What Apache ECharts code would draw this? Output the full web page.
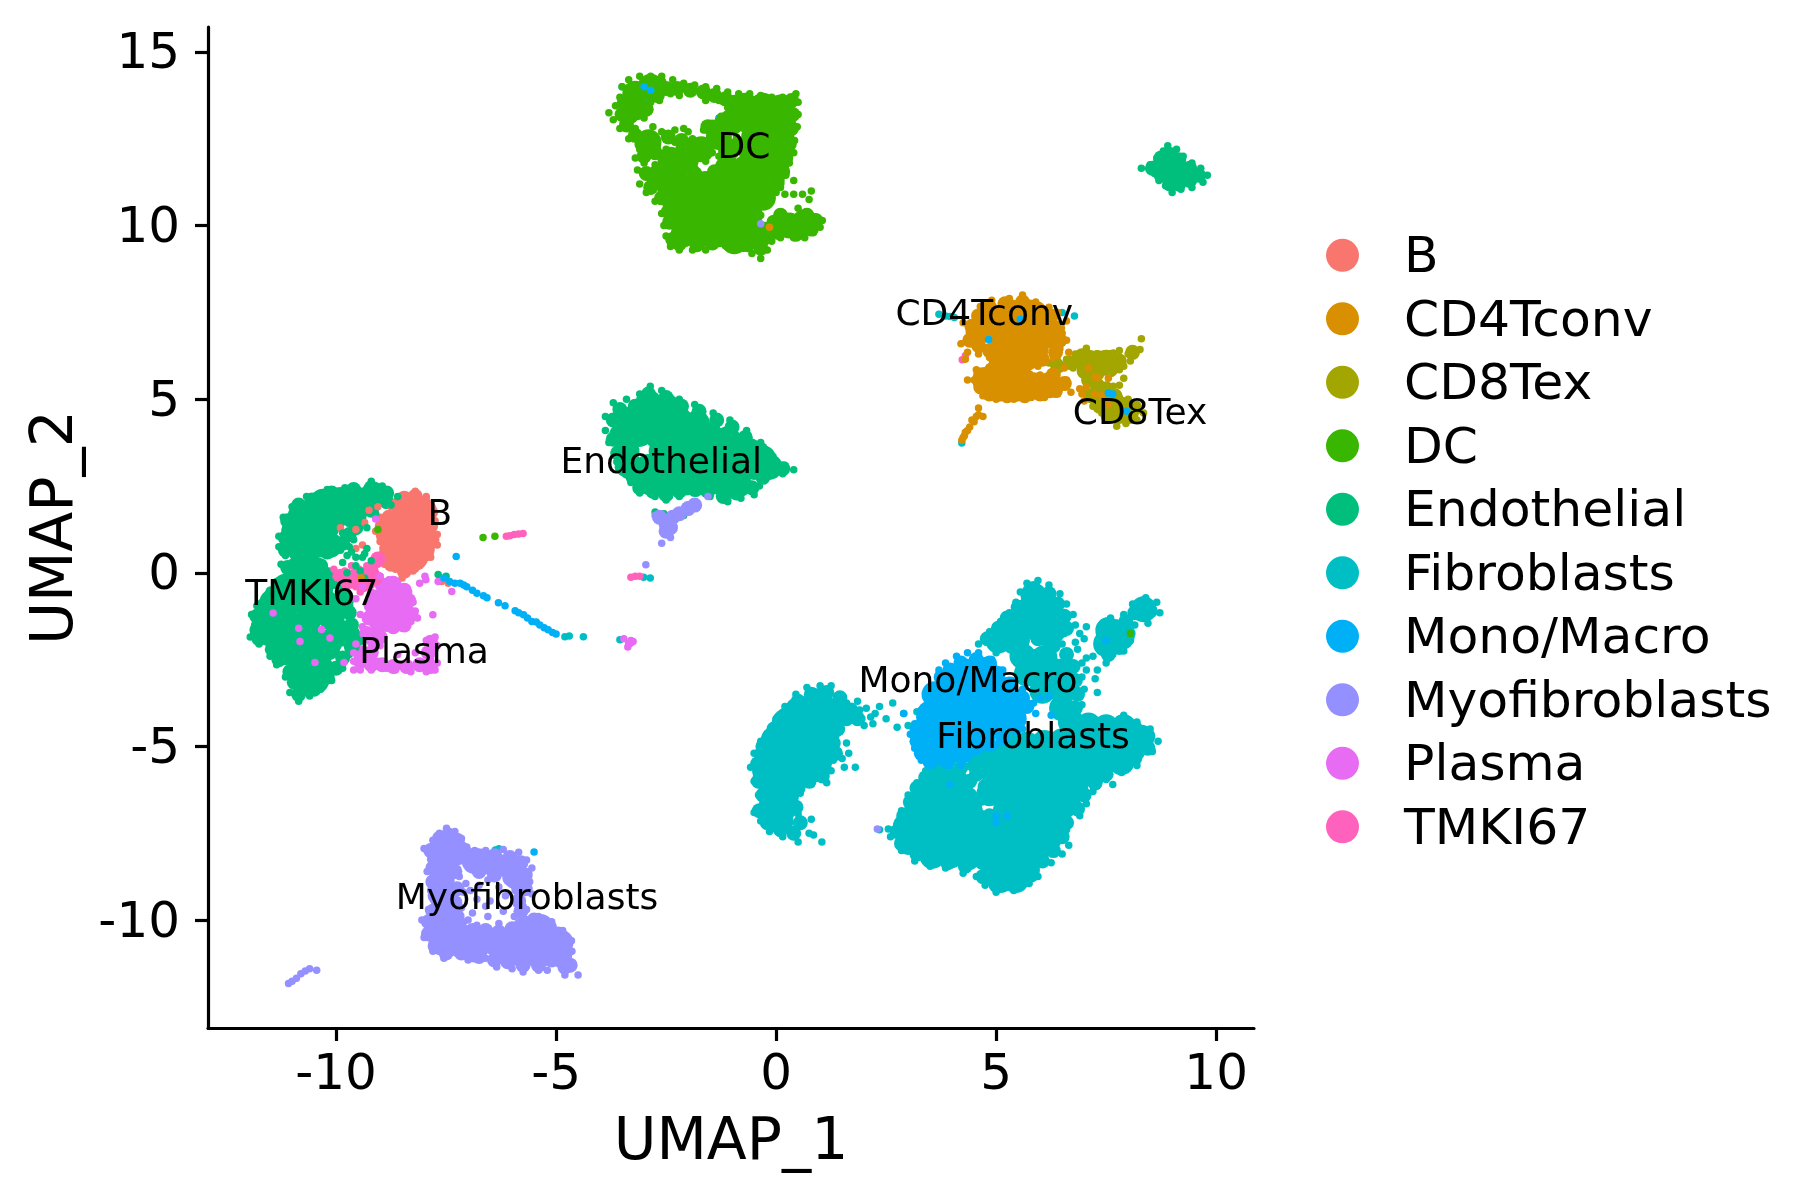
<!DOCTYPE html>
<html><head><meta charset="utf-8">
<script src="https://cdn.jsdelivr.net/npm/echarts@6/dist/echarts.min.js"></script>
<style>html,body{margin:0;padding:0;background:#fff}#c{width:1800px;height:1200px}</style></head>
<body><div id="c"></div>
<script>
const categories=["B","CD4Tconv","CD8Tex","DC","Endothelial","Fibroblasts","Mono/Macro","Myofibroblasts","Plasma","TMKI67"];
const xTicks=[-10,-5,0,5,10];
const yTicks=[-10,-5,0,5,10,15];
const labelPoints=[["DC",-0.73,12.28],["CD4Tconv",4.73,7.49],["CD8Tex",8.27,4.64],["Endothelial",-2.61,3.21],["B",-7.64,1.73],["TMKI67",-10.55,-0.59],["Plasma",-8.0,-2.25],["Mono/Macro",4.36,-3.08],["Fibroblasts",5.84,-4.7],["Myofibroblasts",-5.66,-9.33]];

const fibroDense=[[0.9,-3.7],[0.5,-3.95],[0.2,-4.3],[0.6,-4.4],[1.0,-4.2],[-0.05,-4.8],[0.35,-4.85],[0.75,-4.8],[1.15,-4.65],[-0.2,-5.25],[0.2,-5.3],[0.6,-5.3],[1.0,-5.2],[-0.25,-5.7],[0.15,-5.75],[0.55,-5.75],[0.9,-5.65],[-0.1,-6.2],[0.25,-6.2],[-0.1,-6.7],[0.2,-6.75],[0.1,-7.15],
[5.85,-0.65],[5.7,-1.1],[6.1,-1.05],[5.4,-1.5],[5.8,-1.55],[5.05,-1.95],[6.3,-1.65],[5.45,-2.0],
[7.55,-1.65],[7.5,-2.05],[7.85,-1.85],[8.35,-1.05],
[5.6,-2.4],[6.1,-2.45],[6.45,-2.85],[6.0,-3.0],[5.7,-2.9],[6.5,-3.4],[6.05,-3.4],[6.5,-3.9],
[6.7,-4.3],[7.1,-4.4],[7.5,-4.45],[7.9,-4.45],[8.3,-4.75],[5.3,-4.95],[5.7,-4.95],[6.1,-4.9],[6.5,-4.85],[6.9,-4.85],[7.3,-4.9],[7.7,-4.95],[8.1,-5.1],
[4.7,-5.4],[5.1,-5.4],[5.5,-5.4],[5.9,-5.4],[6.3,-5.35],[6.7,-5.35],[7.1,-5.35],[7.5,-5.4],[7.85,-5.45],
[3.65,-5.95],[4.05,-5.95],[5.2,-5.85],[5.6,-5.85],[6.0,-5.85],[6.4,-5.85],[6.8,-5.8],[7.2,-5.8],
[3.35,-6.4],[3.75,-6.4],[4.15,-6.4],[5.6,-6.3],[6.0,-6.3],[6.4,-6.3],[6.8,-6.25],[4.85,-6.35],[5.3,-6.6],
[3.2,-6.85],[3.6,-6.85],[4.0,-6.85],[4.4,-6.85],[6.2,-6.75],[6.55,-6.7],[5.75,-6.95],
[2.95,-7.3],[3.35,-7.3],[3.75,-7.3],[4.15,-7.3],[4.55,-7.3],[4.95,-7.35],[5.4,-7.3],[6.05,-7.2],[6.35,-7.2],
[3.0,-7.75],[3.4,-7.75],[3.8,-7.75],[4.2,-7.75],[4.6,-7.75],[5.0,-7.75],[5.4,-7.75],[5.8,-7.7],[6.2,-7.65],
[3.55,-8.15],[3.95,-8.15],[4.35,-8.2],[4.75,-8.2],[5.15,-8.2],[5.55,-8.15],[5.9,-8.1],
[5.05,-8.6],[5.4,-8.6],[5.7,-8.55],[5.1,-8.85],[5.45,-8.85]];
const fibroMid=[[1.15,-3.45],[0.8,-3.5],[0.5,-3.7],[0.2,-4.1],[-0.05,-4.5],[-0.3,-5.0],[-0.42,-5.5],[-0.4,-6.0],[-0.3,-6.4],[-0.38,-6.85],[-0.2,-7.2],[0.1,-7.4],[0.4,-7.5],[0.55,-7.2],[0.45,-6.75],[0.35,-6.45],[0.5,-6.2],[0.75,-6.0],[1.05,-5.85],[1.1,-5.5],[1.35,-5.2],[1.3,-4.9],[1.4,-4.5],[1.4,-3.9],[1.2,-3.8],[1.3,-4.2],[1.6,-4.2],[1.45,-3.6],[1.7,-3.95],[1.85,-4.2],
[5.85,-0.45],[6.2,-0.6],[6.4,-0.9],[5.5,-1.0],[5.25,-1.3],[5.05,-1.6],[4.8,-1.9],[6.55,-1.25],[6.2,-1.4],[6.3,-1.1],[5.95,-1.9],[5.6,-1.95],[5.3,-1.9],[6.75,-2.7],[6.8,-3.1],[6.85,-3.5],[6.8,-3.9],[6.6,-2.35],[6.3,-2.1],[5.9,-2.4],[6.6,-1.6],
[8.35,-0.95],[8.5,-1.1],[8.15,-1.15],[7.95,-1.4],[7.75,-1.55],[7.5,-1.6],[7.4,-1.95],[7.55,-2.35],[7.8,-2.15],[8.0,-1.75],
[7.85,-4.3],[8.15,-4.45],[8.45,-4.7],[8.45,-5.05],[8.15,-5.35],[7.8,-5.6],[7.5,-5.8],[7.25,-6.05],[7.0,-6.4],[6.85,-6.8],[6.6,-7.2],[6.5,-7.6],[6.3,-8.0],[6.05,-8.3],[5.8,-8.7],[5.4,-9.0],[5.0,-9.0],[4.7,-8.75],[4.3,-8.45],[3.9,-8.35],[3.5,-8.3],[3.2,-8.1],[2.85,-7.8],[2.75,-7.45],[2.9,-7.0],[3.05,-6.6],[3.2,-6.2],[3.4,-5.9],[3.7,-5.65],[4.2,-5.6],[4.5,-5.55],[4.4,-6.0],[4.4,-6.4],[4.65,-6.5],[4.6,-7.0],[5.1,-6.8],[5.3,-7.25],[5.7,-7.3],[5.75,-6.6],[5.2,-6.2],[4.85,-5.9],[5.3,-6.5],[4.75,-6.15],[5.05,-7.05],[5.55,-7.0],[5.0,-5.75],[4.55,-5.8],[5.95,-6.7],[5.4,-6.05],[4.85,-7.0]];
const fibroSparse=[[1.25,-3.25],[1.0,-3.25],[0.7,-3.3],[0.45,-3.5],[0.2,-3.85],[0.0,-4.2],[-0.15,-4.6],[-0.35,-4.85],[-0.5,-5.2],[-0.58,-5.6],[-0.5,-6.0],[-0.4,-6.4],[-0.5,-6.9],[-0.35,-7.15],[-0.15,-7.45],[0.15,-7.6],[0.5,-7.75],[0.75,-7.5],[0.6,-7.2],[0.8,-7.1],[1.04,-7.75],[0.85,-7.55],[0.5,-6.95],[0.4,-6.45],[0.55,-6.35],[0.8,-6.1],[1.15,-6.05],[1.25,-5.7],[1.3,-5.4],[1.5,-5.35],[1.65,-5.2],[1.8,-5.6],[1.55,-5.6],[1.3,-5.0],[1.6,-4.9],[1.3,-4.6],[1.5,-4.3],[1.7,-4.2],[2.0,-4.4],[2.2,-4.35],[2.25,-4.05],[1.9,-3.95],[1.75,-4.15],[1.6,-3.75],[1.85,-3.7],[2.05,-3.9],[2.35,-3.85],[2.5,-4.2],[2.65,-3.75],[3.2,-4.0],[2.9,-4.05],[3.0,-4.4],[2.75,-4.45],[2.15,-4.15],[1.95,-4.2],
[4.6,-2.05],[4.85,-1.7],[5.1,-1.4],[5.3,-1.15],[5.45,-0.85],[5.55,-0.55],[5.7,-0.3],[5.95,-0.22],[6.2,-0.35],[6.45,-0.6],[6.6,-0.9],[6.75,-1.2],[6.8,-1.5],[7.05,-1.55],[7.0,-1.9],[6.85,-2.2],[7.05,-2.45],[7.05,-2.8],[7.25,-3.05],[7.3,-3.45],[6.95,-3.0],[7.0,-3.35],[6.95,-3.8],[6.65,-2.45],[6.5,-2.05],[6.3,-1.8],[6.1,-2.0],[6.55,-1.75],[5.0,-2.3],[5.3,-2.2],[6.9,-1.75],[6.8,-2.0],[6.95,-2.6],
[8.4,-0.72],[8.65,-0.85],[8.72,-1.15],[8.45,-1.45],[8.15,-1.5],[8.05,-1.95],[7.9,-2.25],[7.65,-2.35],[7.5,-2.6],[7.3,-2.8],[7.2,-2.4],[7.35,-1.75],[7.6,-1.3],[7.9,-1.2],[8.1,-0.9],
[7.9,-4.1],[8.2,-4.3],[8.5,-4.5],[8.68,-4.85],[8.55,-5.15],[8.2,-5.55],[7.85,-5.75],[7.65,-6.1],[7.5,-5.95],[7.2,-6.3],[7.05,-6.65],[6.9,-7.0],[6.6,-7.4],[6.65,-7.85],[6.5,-8.1],[6.25,-8.35],[5.95,-8.75],[5.75,-8.95],[5.4,-9.15],[5.0,-9.2],[4.75,-9.0],[4.55,-8.75],[4.25,-8.65],[3.85,-8.5],[3.5,-8.45],[3.15,-8.3],[2.85,-8.0],[2.6,-7.6],[2.75,-7.25],[2.85,-6.85],[3.0,-6.4],[3.2,-6.05],[3.4,-5.7],[2.35,-7.4],[2.55,-7.38],
[-4.8,-1.84],[-4.7,-1.82],[-4.38,-1.84],[-3.01,-0.13],[-2.86,-0.15],[-3.55,-1.93],[3.85,7.4],[4.05,7.35],[3.7,7.45],[3.95,7.38],[6.5,7.5],[6.78,7.4],[4.22,3.74],[7.36,5.44],[-7.03,-7.96],[-6.38,-7.98],[-6.3,-7.95],[-8.1,1.8],[-3.5,14.0],[-3.05,13.75],[-3.15,13.45],[-1.3,13.1],[-2.9,13.6],[-2.7,3.8],[-1.1,2.1]];
const monoDense=[[3.6,-3.5],[3.95,-3.2],[4.35,-2.85],[4.75,-2.8],[3.5,-4.05],[3.9,-3.65],[4.3,-3.3],[4.7,-3.25],[5.1,-3.35],[5.4,-3.7],[3.4,-4.5],[3.8,-4.2],[4.2,-3.95],[4.6,-3.75],[5.0,-3.8],[5.4,-4.2],[3.4,-4.95],[3.8,-4.75],[4.2,-4.45],[4.6,-4.3],[5.0,-4.3],[3.6,-5.2],[4.0,-5.1],[4.3,-4.95],[4.7,-4.7]];
const monoMid=[[3.75,-3.0],[3.95,-2.8],[4.2,-2.6],[4.55,-2.5],[4.85,-2.6],[5.05,-2.9],[5.3,-3.2],[5.6,-3.6],[5.7,-3.85],[5.45,-4.45],[5.15,-4.75],[4.85,-4.95],[4.55,-5.05],[4.3,-5.25],[3.9,-5.45],[3.5,-5.45],[3.3,-5.2],[3.2,-4.85],[3.2,-4.5],[3.35,-4.15],[3.5,-3.85],[3.7,-3.45],[4.8,-2.95]];
const monoSparse=[[3.7,-2.8],[3.85,-2.6],[4.1,-2.4],[4.35,-2.3],[4.6,-2.3],[4.9,-2.5],[5.15,-2.8],[5.35,-3.1],[5.6,-3.35],[5.85,-3.75],[6.0,-3.6],[6.2,-3.55],[6.25,-4.1],[5.9,-4.05],[5.6,-4.5],[5.45,-4.6],[5.0,-4.95],[4.5,-5.15],[4.25,-5.4],[4.2,-5.55],[3.5,-5.55],[3.3,-5.4],[3.15,-5.05],[3.05,-4.65],[3.15,-4.35],[3.3,-3.95],[3.5,-3.7],[2.9,-4.05],[7.5,-1.95],[3.95,-6.1],[5.25,-7.0],[5.0,-7.0],[5.0,-7.2],
[-7.27,0.47],[-7.55,-0.15],[-7.42,-0.25],[-7.3,-0.3],[-7.18,-0.3],[-7.1,-0.35],[-7.03,-0.4],[-6.9,-0.5],[-6.8,-0.59],[-6.65,-0.66],[-6.57,-0.72],[-6.31,-0.86],[-6.16,-0.95],[-5.93,-1.09],[-5.85,-1.15],[-5.74,-1.21],[-5.65,-1.3],[-5.55,-1.4],[-5.45,-1.42],[-5.37,-1.5],[-5.27,-1.58],[-5.18,-1.64],[-5.08,-1.72],[-5.0,-1.76],[4.83,6.72],[5.55,7.3],[7.55,5.18],[7.65,5.15],[7.97,4.65],[-5.5,-8.04],[-3.0,14.0],[-2.85,13.9]];
const endoDense=[[-2.9,4.9],[-2.5,4.8],[-3.4,4.4],[-3.0,4.45],[-2.6,4.4],[-2.2,4.4],[-1.8,4.3],[-3.5,3.95],[-3.1,4.0],[-2.7,3.95],[-2.3,3.95],[-1.9,3.95],[-1.5,3.95],[-1.1,3.85],[-3.4,3.5],[-2.6,3.5],[-2.2,3.5],[-1.8,3.5],[-1.4,3.5],[-1.0,3.5],[-0.6,3.5],[-0.3,3.3],[-3.3,3.05],[-2.9,3.05],[-2.5,3.05],[-2.1,3.05],[-1.7,3.05],[-1.3,3.05],[-0.9,3.05],[-0.5,3.05],[-0.15,3.05],[-2.85,2.6],[-2.45,2.6],[-2.05,2.6],[-1.65,2.6],[-1.25,2.6],[-0.85,2.55],
[-10.3,2.05],[-9.9,2.1],[-9.5,2.1],[-9.15,2.25],[-10.8,1.65],[-10.4,1.65],[-10.0,1.65],[-9.6,1.65],[-10.95,1.2],[-10.55,1.2],[-10.9,0.8],[-10.55,0.8],[-10.15,0.8],[-10.85,0.1],[-10.5,0.1],[-11.15,-0.4],[-10.75,-0.4],[-10.35,-0.4],[-11.45,-0.85],[-11.05,-0.85],[-10.65,-0.85],[-10.25,-0.85],[-9.9,-0.95],[-11.55,-1.3],[-11.15,-1.35],[-10.6,-1.3],[-10.1,-1.3],[-11.5,-1.75],[-11.1,-2.3],[-10.55,-2.15],[-10.2,-2.15],[-9.85,-1.75],[-11.2,-1.9],[-10.6,-1.8],[-10.15,-2.0],[-10.75,-2.7],[-10.35,-2.75],[-10.7,-3.15],[-10.45,-3.1],[-10.85,-1.8],
[8.85,11.75],[9.15,11.5]];
const endoMid=[[-3.7,4.4],[-3.55,4.7],[-3.2,4.8],[-2.9,5.15],[-2.5,5.05],[-2.15,4.8],[-1.75,4.65],[-1.35,4.4],[-1.0,4.2],[-0.7,3.9],[-0.35,3.55],[-0.1,3.15],[0.15,3.0],[-0.3,2.75],[-0.55,2.45],[-0.9,2.3],[-1.2,2.2],[-1.55,2.35],[-1.85,2.4],[-2.2,2.35],[-2.5,2.25],[-2.8,2.35],[-3.1,2.45],[-3.25,2.75],[-3.5,3.05],[-3.6,3.45],[-3.7,3.85],
[-11.1,1.5],[-10.85,1.95],[-10.55,2.1],[-10.1,2.3],[-9.6,2.4],[-9.2,2.45],[-8.85,2.3],[-8.85,2.05],[-9.2,1.8],[-9.55,1.3],[-9.7,1.1],[-9.85,0.85],[-10.2,0.6],[-11.15,1.0],[-11.15,0.65],[-10.9,0.55],[-10.55,0.55],[-10.35,1.35],[-10.1,1.25],
[-11.1,0.15],[-10.95,-0.1],[-11.2,-0.35],[-11.45,-0.6],[-11.65,-0.95],[-11.8,-1.25],[-11.8,-1.65],[-11.75,-1.9],[-11.45,-2.2],[-11.3,-2.5],[-11.05,-2.85],[-10.95,-3.15],[-10.85,-3.5],[-10.5,-3.35],[-10.2,-3.0],[-10.0,-2.75],[-9.85,-2.45],[-9.65,-2.15],[-9.5,-1.9],[-9.65,-1.5],[-9.7,-1.15],[-9.75,-0.75],[-9.85,-0.55],[-10.05,-0.25],[-10.2,-0.05],[-10.35,0.2],[-10.75,-1.6],[-11.0,-1.3],
[8.55,11.65],[8.75,11.95],[8.95,12.05],[9.15,11.9],[9.4,11.65],[9.6,11.45],[9.4,11.3],[9.15,11.2],[8.95,11.2],[8.75,11.45]];
const endoSparse=[[-3.88,4.5],[-3.7,4.9],[-3.4,5.0],[-3.1,5.15],[-2.86,5.37],[-2.6,5.25],[-2.2,5.0],[-1.85,4.85],[-1.43,4.6],[-1.05,4.4],[-0.67,4.1],[-0.35,3.75],[-0.07,3.35],[0.2,3.1],[0.4,2.97],[0.15,2.85],[-0.2,2.77],[-0.38,2.5],[-0.5,2.25],[-0.8,2.15],[-1.1,2.05],[-1.5,2.2],[-1.8,2.3],[-2.2,2.2],[-2.5,2.1],[-2.75,2.2],[-3.1,2.3],[-3.3,2.6],[-3.5,2.9],[-3.62,3.2],[-3.8,3.75],[-3.88,4.1],[-3.65,3.45],[-2.75,1.75],[-2.55,1.7],[-2.0,1.95],[-2.1,1.65],
[-11.2,1.6],[-11.0,1.9],[-10.67,2.2],[-10.2,2.4],[-9.8,2.45],[-9.2,2.64],[-8.95,2.5],[-8.6,2.2],[-8.75,1.95],[-9.1,1.7],[-9.5,1.5],[-9.3,1.3],[-9.6,0.95],[-9.9,0.65],[-10.35,0.55],[-10.7,0.5],[-11.15,0.5],[-11.3,1.05],[-11.3,0.75],[-11.25,0.25],[-11.0,0.3],[-10.1,1.35],[-10.2,1.1],[-9.85,1.15],[-9.2,0.35],[-9.55,0.45],[-9.45,0.05],[-9.35,-0.15],[-9.75,0.0],[-10.2,0.0],[-10.0,-0.35],[-9.95,-0.55],[-9.7,-0.7],[-9.65,-1.1],[-9.7,-1.55],[-9.55,-1.7],[-9.4,-1.95],[-9.55,-2.15],[-9.7,-2.35],[-9.85,-2.75],[-10.1,-3.1],[-10.35,-3.35],[-10.6,-3.55],[-10.85,-3.7],[-11.05,-3.45],[-10.95,-3.2],[-11.15,-3.0],[-11.35,-2.65],[-11.5,-2.4],[-11.75,-2.05],[-11.95,-1.85],[-11.85,-1.5],[-11.92,-1.2],[-11.8,-0.95],[-11.5,-0.5],[-11.35,-0.25],[-11.15,0.1],[-7.68,-0.05],[-7.5,-0.1],[-9.65,0.6],[-9.35,0.55],[-9.75,0.5],[-9.85,0.3],[-9.55,0.2],[-9.4,0.45],[-9.3,0.7],[-9.7,0.75],
[8.3,11.65],[8.5,11.75],[8.6,11.5],[8.65,11.95],[8.8,12.15],[8.9,12.3],[9.1,12.2],[9.25,12.0],[9.45,11.8],[9.65,11.65],[9.8,11.45],[9.7,11.25],[9.45,11.1],[9.2,11.05],[9.0,10.95],[8.85,11.15],[8.7,11.3],[9.4,11.45]];
const dcDense=[[-0.7,13.45],[-0.3,13.45],[0.1,13.4],[-1.0,13.0],[-0.6,13.0],[-0.2,13.0],[0.15,13.0],[-1.3,12.55],[-0.5,12.55],[-0.1,12.55],[0.12,12.55],[-0.55,12.1],[-0.15,12.1],[0.05,12.1],[-1.1,11.65],[-0.7,11.65],[-0.3,11.65],[0.0,11.65],[-2.3,11.5],[-1.6,11.2],[-1.2,11.2],[-0.8,11.2],[-0.4,11.2],[-0.1,11.3],[-2.4,11.0],[-2.05,11.1],[-2.3,10.7],[-1.9,10.7],[-1.5,10.7],[-1.1,10.7],[-0.7,10.7],[-0.3,10.8],[-2.2,10.25],[-1.8,10.25],[-1.4,10.25],[-1.0,10.25],[-0.6,10.3],[-2.1,9.75],[-1.7,9.75],[-1.3,9.75],[-0.9,9.75],[-0.5,9.7],[0.3,10.0],[0.65,10.1],[-0.95,9.55],[-2.65,11.4],[-2.4,11.9],[-2.05,11.9],[-3.2,13.8],[-3.2,13.4],[-2.85,14.0],[-2.9,12.4],[-1.7,12.2]];
const dcMid=[[-1.9,12.35],[-2.15,12.45],[-2.45,12.55],[-2.75,12.1],[-3.05,12.35],[-3.2,12.6],[-3.4,12.9],[-3.5,13.2],[-3.3,13.15],[-3.45,13.55],[-2.95,13.35],[-2.7,13.75],[-2.5,13.95],[-2.65,14.1],[-2.25,13.95],[-1.95,13.9],[-1.65,13.85],[-1.4,13.75],[-1.15,13.65],[-0.95,13.55],[0.35,13.6],[0.38,13.2],[0.35,12.8],[0.3,12.35],[0.22,11.95],[0.15,11.55],[0.02,11.2],[-3.0,12.0],[-2.95,11.5],[-2.85,11.1],[-2.6,10.8],[-2.45,10.4],[-2.42,10.1],[-2.35,9.6],[-2.2,9.48],[-1.8,9.45],[-1.45,9.5],[-1.1,9.5],[-0.65,9.45],[-0.35,9.35],[-0.3,9.6],[0.05,9.8],[0.45,9.75],[0.8,9.9],[0.9,10.15],[0.7,10.3],[0.1,10.3],[-0.95,12.3],[-1.15,12.15],[-1.85,11.5],[-1.4,11.55],[-0.85,13.4],[-1.55,12.85],[-1.25,12.95],[-0.05,10.1],[0.1,10.0],[-0.15,9.85]];
const dcSparse=[[-3.5,14.0],[-3.35,14.2],[-3.1,14.3],[-2.85,14.3],[-2.6,14.3],[-2.35,14.2],[-2.1,14.1],[-1.85,14.05],[-1.6,14.0],[-1.35,13.95],[-1.1,13.85],[-0.85,13.8],[-0.6,13.8],[-0.35,13.75],[-0.1,13.7],[0.15,13.7],[0.45,13.8],[0.5,13.55],[0.5,13.2],[0.48,12.85],[0.42,12.45],[0.4,12.1],[0.3,11.8],[0.22,11.45],[0.1,11.1],[0.0,10.95],[0.2,10.9],[0.4,10.9],[0.6,10.9],[0.8,11.0],[0.75,10.75],[0.4,11.3],[0.5,10.5],[0.7,10.4],[0.9,10.25],[1.05,10.15],[1.0,9.95],[0.85,9.8],[0.65,9.65],[0.4,9.65],[0.1,9.65],[-0.1,9.55],[-0.2,9.3],[-0.35,9.05],[-0.55,9.2],[-0.75,9.35],[-1.6,9.3],[-1.9,9.3],[-2.2,9.3],[-2.4,9.4],[-2.5,9.7],[-2.55,10.0],[-2.6,10.35],[-2.75,10.7],[-2.95,10.95],[-3.1,11.2],[-3.15,11.6],[-3.2,11.95],[-3.1,12.2],[-3.35,12.5],[-3.55,12.8],[-3.7,13.05],[-3.8,13.25],[-3.65,13.45],[-3.55,13.7],[-3.0,13.1],[-2.8,12.85],[-2.6,12.7],[-2.3,12.75],[-2.1,12.8],[-1.9,12.5],[-1.65,12.75],[-1.45,12.95],[-1.25,13.15],[-1.1,13.4],[-1.3,13.6],[-1.6,13.6],[-2.85,13.55],[-2.65,13.6],[-2.4,13.8],[-2.2,13.75],[-2.7,12.3],[-2.5,12.2],[-2.3,12.4],[-2.9,12.2],[-3.0,11.8],[-2.75,11.75],[-2.55,12.0],[-2.2,12.25],[-1.9,12.1],[-1.65,12.3],[-1.45,12.1],[-1.3,12.0],[-1.6,11.85],[-1.85,11.65],[-1.45,11.55],[-0.95,12.05],[-0.9,12.55],[-2.0,12.7],[-2.75,12.5],[-3.0,12.55],[-3.2,12.8],[-3.35,13.0],[-0.35,10.3],[-0.25,10.0],[-0.4,9.95],[0.0,10.0],[-0.15,9.7],[-6.66,1.02],[-6.39,1.05],[-9.05,1.25],[8.05,-1.75]];
const myoDense=[[-7.6,-7.95],[-7.25,-8.05],[-7.55,-8.4],[-6.85,-8.3],[-6.45,-8.35],[-6.05,-8.45],[-7.6,-8.85],[-7.6,-9.3],[-7.6,-9.75],[-7.7,-10.2],[-7.3,-10.3],[-7.6,-10.65],[-7.2,-10.7],[-6.8,-10.65],[-6.4,-10.65],[-6.0,-10.65],[-5.6,-10.55],[-5.2,-10.6],[-4.9,-10.65],[-5.35,-10.2],[-5.7,-10.25],[-5.65,-10.95],[-5.25,-10.95],[-4.95,-10.9],[-6.0,-10.95],[-6.85,-10.85],[-5.9,-8.75]];
const myoMid=[[-7.85,-8.0],[-7.65,-7.65],[-7.45,-7.55],[-7.25,-7.7],[-7.1,-8.0],[-6.75,-8.15],[-6.4,-8.15],[-6.05,-8.2],[-5.8,-8.35],[-5.7,-8.7],[-5.7,-9.1],[-5.85,-9.45],[-5.8,-9.75],[-5.5,-10.0],[-5.15,-10.2],[-4.95,-10.4],[-4.8,-10.7],[-4.8,-11.0],[-5.1,-11.15],[-5.4,-11.3],[-5.75,-11.3],[-6.1,-11.2],[-6.4,-11.15],[-6.75,-11.05],[-7.15,-10.95],[-7.5,-10.95],[-7.75,-10.75],[-7.9,-10.4],[-7.9,-10.05],[-7.8,-9.75],[-7.75,-9.3],[-7.8,-8.9],[-7.8,-8.5],[-7.3,-8.6],[-7.25,-9.1],[-7.3,-9.5],[-7.25,-9.9],[-6.9,-10.3],[-6.6,-10.3],[-6.3,-10.35],[-6.0,-10.25],[-6.75,-8.6],[-6.4,-8.7],[-6.05,-8.8],[-5.85,-9.1],[-4.68,-11.3],[-4.8,-11.35],[-2.5,1.4],[-2.5,1.2],[-2.35,1.6],[-2.65,1.6],[-2.2,1.7],[-2.0,1.85],[-1.85,1.95],[-2.4,1.3]];
const myoSparse=[[-8.0,-7.94],[-7.8,-7.7],[-7.65,-7.5],[-7.49,-7.36],[-7.3,-7.45],[-7.15,-7.65],[-7.03,-7.9],[-6.85,-8.0],[-6.6,-8.0],[-6.2,-7.97],[-5.85,-8.05],[-5.67,-8.27],[-5.55,-8.5],[-5.6,-8.9],[-5.55,-9.25],[-5.75,-9.6],[-5.67,-9.7],[-5.4,-9.9],[-5.1,-10.05],[-4.85,-10.3],[-4.65,-10.6],[-4.64,-10.9],[-4.75,-11.15],[-4.65,-11.3],[-4.5,-11.58],[-4.8,-11.58],[-4.95,-11.25],[-5.2,-11.45],[-5.4,-11.45],[-5.75,-11.5],[-6.0,-11.4],[-6.35,-11.35],[-6.6,-11.1],[-7.0,-11.15],[-7.55,-11.1],[-7.8,-10.9],[-8.0,-10.5],[-8.05,-10.0],[-7.9,-9.7],[-7.85,-9.15],[-7.93,-8.6],[-7.85,-8.25],[-7.2,-8.75],[-7.1,-9.2],[-7.15,-9.65],[-7.0,-10.0],[-6.75,-9.0],[-6.55,-8.85],[-6.3,-9.05],[-6.15,-9.3],[-6.5,-9.45],[-6.8,-9.4],[-6.55,-9.9],[-6.3,-10.1],[-5.95,-9.9],[-5.9,-9.1],[-7.1,-10.05],[-6.8,-10.15],[-7.05,-8.95],[-6.9,-9.8],[-6.6,-9.6],[-6.95,-9.15],[-6.2,-9.75],[-10.44,-11.45],[-10.6,-11.4],[-10.7,-11.47],[-10.8,-11.55],[-10.9,-11.68],[-11.0,-11.76],[-11.08,-11.83],[-2.75,1.65],[-2.96,0.23],[-2.6,0.85],[-2.4,1.02],[2.3,-7.38],[-0.35,10.05],[-1.55,2.2]];
const cd4Dense=[[4.95,7.35],[5.35,7.5],[5.75,7.5],[6.1,7.2],[4.6,6.95],[5.0,6.95],[5.4,7.0],[5.8,7.0],[6.2,6.85],[5.1,6.45],[5.5,6.5],[5.9,6.45],[5.3,6.05],[5.05,5.65],[5.45,5.6],[4.75,5.55],[5.05,5.3],[5.45,5.3],[5.85,5.4],[6.2,5.4]];
const cd4Mid=[[4.45,7.1],[4.6,7.4],[4.85,7.65],[5.2,7.75],[5.6,7.8],[5.95,7.6],[6.25,7.4],[6.4,7.05],[6.45,6.7],[6.35,6.35],[6.05,6.15],[5.75,6.05],[4.4,6.7],[4.6,6.55],[4.85,6.4],[5.0,6.1],[4.65,5.7],[4.65,5.35],[4.85,5.15],[5.25,5.1],[5.65,5.1],[6.0,5.15],[6.35,5.25],[6.55,5.45],[6.3,5.7],[5.7,5.65],[5.25,5.85],[4.9,5.85],[5.65,5.95]];
const cd4Sparse=[[4.64,7.67],[4.9,7.85],[5.3,7.9],[5.6,8.0],[5.9,7.8],[6.2,7.65],[6.4,7.5],[6.6,7.25],[6.5,6.9],[6.6,6.7],[6.45,6.45],[6.3,6.2],[5.9,6.05],[6.65,6.35],[6.55,5.9],[6.6,5.55],[6.7,5.2],[6.9,5.3],[7.05,5.35],[7.25,5.65],[7.55,5.6],[7.1,5.9],[7.3,5.6],[6.95,5.15],[7.0,4.95],[7.25,5.15],[7.4,5.1],[7.55,4.85],[6.4,5.15],[6.1,5.05],[5.8,5.05],[5.4,5.0],[5.0,5.0],[4.7,5.1],[4.5,5.55],[4.35,5.55],[4.55,5.85],[4.6,6.3],[4.85,6.2],[4.2,6.6],[4.35,6.35],[4.3,6.15],[4.25,7.2],[4.35,6.7],[5.95,5.95],[6.0,5.7],[4.6,4.75],[4.55,4.5],[4.6,4.55],[4.5,4.35],[4.45,4.4],[4.4,4.2],[4.35,4.1],[4.3,4.05],[4.28,3.95],[4.25,3.9],[4.22,3.82],[4.7,4.5],[-9.43,-0.15],[-0.15,9.95]];
const cd8Dense=[[7.5,6.05],[7.1,6.05],[7.75,4.75]];
const cd8Mid=[[6.4,5.95],[6.7,6.05],[6.95,6.25],[7.3,6.2],[7.6,6.2],[7.8,6.1],[8.1,6.35],[7.0,5.8],[7.3,5.75],[7.6,5.85],[7.1,5.55],[7.3,5.4],[7.15,5.1],[7.45,5.0],[7.6,4.75],[7.8,4.5],[8.05,4.5],[8.15,4.75],[7.9,4.85],[7.35,4.8],[7.5,5.3],[7.7,5.1],[7.95,4.7],[7.55,4.5],[7.3,4.95]];
const cd8Sparse=[[6.2,6.04],[6.4,6.1],[6.6,6.15],[6.8,6.3],[7.05,6.47],[7.3,6.3],[7.66,6.33],[7.8,6.4],[8.0,6.3],[8.27,6.43],[8.3,6.74],[8.05,6.1],[7.9,5.95],[7.8,5.85],[7.6,5.75],[7.3,6.05],[7.0,6.1],[6.75,5.9],[7.0,5.85],[7.3,5.85],[7.55,6.05],[7.8,6.15],[6.9,6.15],[7.15,6.2],[7.45,6.2],[7.9,5.6],[7.8,5.4],[7.66,5.37],[7.35,5.2],[7.5,5.05],[7.8,5.05],[8.0,5.0],[8.2,4.85],[8.35,4.6],[8.2,4.4],[7.95,4.3],[7.74,4.22],[7.6,4.45],[7.4,4.6],[7.2,4.8],[7.0,5.2],[7.7,4.75],[8.0,4.7],[7.9,4.45],[7.65,4.9],[7.4,4.95],[6.2,6.75],[8.15,4.55],[6.1,5.55]];
const bDense=[[-8.25,1.95],[-8.05,1.55],[-8.5,1.55],[-8.05,1.1],[-8.45,1.1],[-8.8,1.1],[-8.05,0.7],[-8.45,0.7],[-8.6,0.45],[-8.2,0.45]];
const bMid=[[-8.6,1.95],[-8.45,2.15],[-8.2,2.2],[-8.0,2.0],[-7.85,1.75],[-7.85,1.35],[-7.82,0.95],[-7.95,0.55],[-8.25,0.2],[-8.45,0.05],[-8.75,0.25],[-8.85,0.7],[-8.95,1.35],[-8.8,1.6]];
const bSparse=[[-8.55,2.15],[-8.2,2.35],[-7.95,2.2],[-7.82,1.9],[-7.75,1.5],[-7.7,1.1],[-7.7,0.8],[-7.85,0.45],[-8.1,0.2],[-8.25,0.05],[-8.5,-0.15],[-8.65,0.1],[-8.9,0.25],[-8.95,0.55],[-9.1,1.2],[-9.0,1.6],[-9.35,1.45],[-9.55,1.25],[-9.9,1.3],[-9.55,0.7],[-9.4,0.8],[-9.0,0.9],[-9.25,1.8],[-9.05,1.9],[-8.75,1.9],[-7.6,-0.25],[-7.45,-0.3]];
const plasmaDense=[[-8.75,-0.6],[-8.55,-1.0],[-8.95,-1.05],[-8.6,-1.3],[-9.0,-1.3]];
const plasmaMid=[[-9.1,-0.7],[-8.95,-0.35],[-8.7,-0.3],[-8.45,-0.5],[-8.35,-0.8],[-8.3,-1.2],[-8.45,-1.5],[-8.7,-1.55],[-9.05,-1.55],[-9.25,-1.3],[-9.2,-0.95],[-9.45,-2.55],[-9.2,-2.65],[-8.95,-2.65],[-8.7,-2.7],[-8.4,-2.7],[-8.1,-2.65],[-7.85,-2.7],[-7.9,-2.3],[-7.85,-2.0],[-9.45,-2.3],[-9.2,-2.3],[-9.3,-1.75],[-9.15,-1.95],[-9.0,-1.85]];
const plasmaSparse=[[-9.0,-0.1],[-8.8,-0.2],[-8.6,-0.3],[-8.35,-0.55],[-8.25,-0.85],[-8.2,-1.1],[-8.3,-1.4],[-8.5,-1.6],[-8.85,-1.6],[-9.1,-1.7],[-9.4,-1.55],[-9.3,-0.9],[-9.45,-1.2],[-9.55,-0.75],[-9.2,-0.55],[-9.4,-0.4],[-7.98,-0.1],[-8.1,-0.3],[-7.96,-0.2],[-7.37,-0.54],[-7.68,-0.25],[-7.8,-1.21],[-11.43,-1.16],[-10.85,-1.6],[-10.33,-1.63],[-10.82,-1.98],[-10.14,-1.88],[-9.82,-2.58],[-10.48,-2.58],[-9.55,-2.05],[-9.6,-2.3],[-9.6,-2.55],[-9.6,-2.8],[-9.45,-2.8],[-9.3,-2.6],[-9.2,-2.8],[-9.05,-2.55],[-9.0,-2.7],[-8.85,-2.75],[-8.65,-2.8],[-8.45,-2.7],[-8.3,-2.85],[-8.1,-2.7],[-7.95,-2.85],[-7.75,-2.8],[-7.7,-2.6],[-7.85,-2.5],[-7.75,-1.85],[-7.7,-2.1],[-7.95,-1.95],[-9.0,-2.1],[-8.6,-2.35],[-8.2,-2.3],[-3.31,-2.03],[-3.46,-1.9],[-3.25,-1.98],[-3.37,-2.14],[-3.3,-1.95],[-3.35,-2.05],[-8.15,-1.3],[-9.1,1.55]];
const tmkiMid=[[-9.6,-0.15],[-9.3,-0.2],[-9.1,-0.15],[-9.75,-0.1],[-9.5,0.0],[-9.2,0.05],[-9.4,-0.35],[-9.7,-0.25],[-9.9,-0.1],[-9.05,0.4]];
const tmkiSparse=[[-10.05,0.1],[-9.85,-0.1],[-9.65,-0.05],[-9.55,-0.15],[-9.4,0.05],[-9.3,-0.05],[-9.15,0.0],[-9.0,-0.1],[-9.55,-0.4],[-9.35,-0.3],[-9.2,-0.35],[-9.8,-0.35],[-9.1,0.4],[-8.95,0.4],[-9.3,0.2],[-9.05,0.25],[-9.65,0.2],[-9.8,0.05],[-10.0,-0.1],[-9.45,-0.55],[-3.2,-0.1],[-3.3,-0.13],[-3.1,-0.1],[-6.13,1.05],[-6.05,1.07],[-5.95,1.1],[-5.85,1.12],[-5.75,1.13],[4.23,6.14],[4.3,6.25]];
const seriesOrder=[
 ["Fibroblasts","#00BFC4",fibroDense,fibroMid,fibroSparse],
 ["Endothelial","#00BF7D",endoDense,endoMid,[]],
 ["B","#F8766D",bDense,bMid,bSparse],
 ["Plasma","#E76BF3",plasmaDense,plasmaMid,[]],
 ["TMKI67","#FF62BC",[],tmkiMid,tmkiSparse],
 ["Endothelial","#00BF7D",[],[],endoSparse],
 ["Plasma","#E76BF3",[],[],plasmaSparse],
 ["DC","#39B600",dcDense,dcMid,dcSparse],
 ["Myofibroblasts","#9590FF",myoDense,myoMid,myoSparse],
 ["CD8Tex","#A3A500",cd8Dense,cd8Mid,cd8Sparse],
 ["CD4Tconv","#D89000",cd4Dense,cd4Mid,cd4Sparse],
 ["Mono/Macro","#00B0F6",monoDense,monoMid,monoSparse]];
const series=[];
seriesOrder.forEach(([name,color,dense,mid,sparse])=>{
 const base={name,type:"scatter",itemStyle:{color,opacity:1},silent:true,animation:false,progressive:0,large:false,emphasis:{disabled:true}};
 if(dense.length)series.push({...base,data:dense,symbolSize:26});
 if(mid.length)series.push({...base,data:mid,symbolSize:15});
 if(sparse.length)series.push({...base,data:sparse,symbolSize:7.5});
});
series.push({name:"labels",type:"scatter",symbolSize:0,silent:true,animation:false,z:10,
 data:labelPoints.map(p=>({name:p[0],value:[p[1],p[2]]})),
 label:{show:true,position:"inside",offset:[0,2.5],formatter:p=>p.name,fontFamily:"DejaVu Sans",fontSize:36,color:"#000",textBorderWidth:0,textShadowBlur:0,opacity:1}});
const colors={};seriesOrder.forEach(s=>colors[s[0]]=s[1]);
const axisCommon={type:"value",axisLine:{show:true,onZero:false,lineStyle:{color:"#000",width:3.2}},axisTick:{show:true,length:13,lineStyle:{color:"#000",width:3.2}},splitLine:{show:false}};
const nameStyle={fontFamily:"DejaVu Sans",fontSize:58.4,color:"#000"};
const legendIcon="path://M0,16.5 A16.5,16.5 0 1,1 33,16.5 A16.5,16.5 0 1,1 0,16.5 Z M0,41 L1,41 Z";
const chart=echarts.init(document.getElementById("c"),null,{renderer:"canvas"});
chart.setOption({
 backgroundColor:"#fff",
 grid:{left:208,right:546,top:27,height:1001,containLabel:false},
 xAxis:{...axisCommon,min:-12.91,max:10.86,axisTick:{...axisCommon.axisTick,customValues:xTicks},
  axisLabel:{customValues:xTicks,fontFamily:"DejaVu Sans",fontSize:50,color:"#000",margin:23,showMinLabel:true,showMaxLabel:true},
  name:"UMAP_1",nameLocation:"middle",nameGap:87,nameTextStyle:nameStyle},
 yAxis:{...axisCommon,min:-13.11,max:15.72,axisTick:{...axisCommon.axisTick,customValues:yTicks},
  axisLabel:{customValues:yTicks,fontFamily:"DejaVu Sans",fontSize:50,color:"#000",margin:28,verticalAlign:"top",lineHeight:7,showMinLabel:true,showMaxLabel:true},
  name:"UMAP_2",nameLocation:"middle",nameGap:122,nameTextStyle:nameStyle},
 legend:{show:true,data:categories.map(c=>({name:c,icon:legendIcon,itemStyle:{color:colors[c]}})),orient:"vertical",left:1321,top:229.3,itemWidth:33,itemHeight:41,itemGap:13.5,selectedMode:false,
  textStyle:{fontFamily:"DejaVu Sans",fontSize:50.4,color:"#000",padding:[0,0,0,40],verticalAlign:"top",lineHeight:10}},
 series
});
</script></body></html>
